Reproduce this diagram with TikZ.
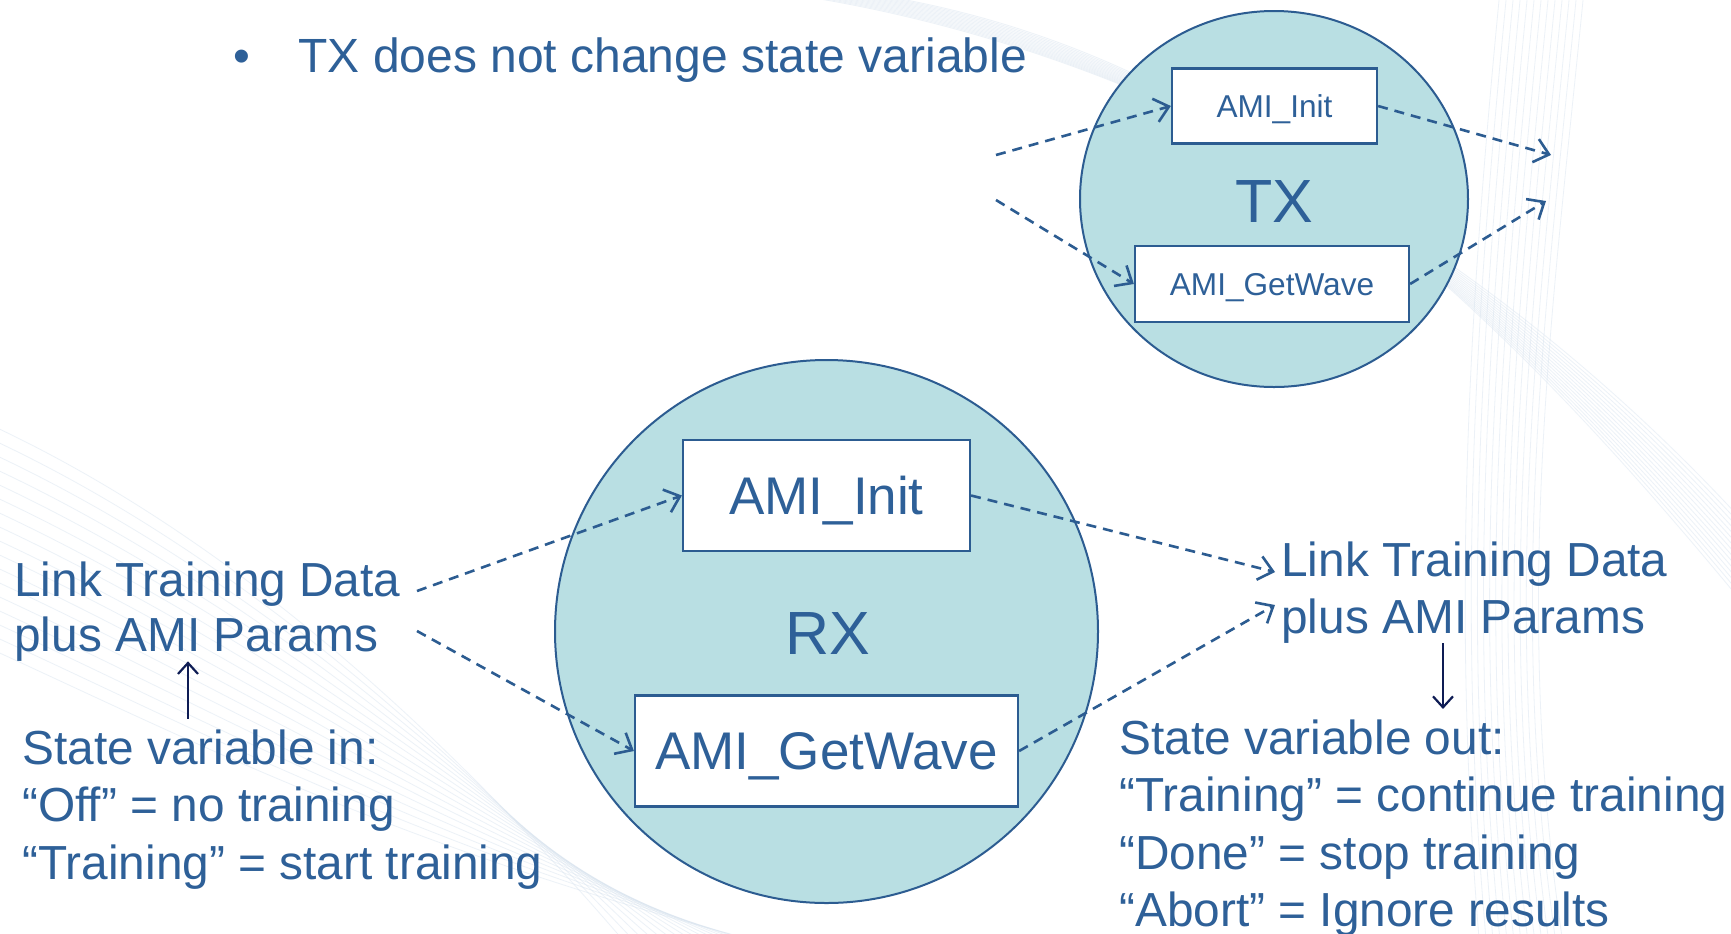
\documentclass[tikz,border=0pt]{standalone}
\usepackage{fontspec}
\setmainfont{Liberation Sans}
\usetikzlibrary{arrows.meta,shapes.geometric}
\definecolor{ink}{RGB}{46,96,152}
\definecolor{disc}{RGB}{185,223,227}
\definecolor{rim}{RGB}{44,92,145}
\definecolor{navy}{RGB}{14,28,84}
\definecolor{haze}{RGB}{214,226,238}
\begin{document}
\begin{tikzpicture}[x=0.5pt,y=-0.5pt,
  lbl/.style={inner sep=0pt, anchor=base west, text=ink, font=\fontsize{23.9}{29}\selectfont},
  unit/.style={ellipse, draw=rim, line width=1pt, fill=disc, inner sep=0pt},
  fnbox/.style={draw=rim, line width=1.1pt, fill=white, inner sep=0pt, text=ink, text depth=0pt},
  flow/.style={draw=rim, line width=1.3pt, dash pattern=on 5pt off 3.5pt,
    -{Straight Barb[length=7pt,width=12pt,line width=1.3pt]}},
  statearrow/.style={draw=navy, line width=1.1pt,
    -{Straight Barb[length=5.5pt,width=10pt,line width=1.1pt]}}]
\useasboundingbox (0,0) rectangle (1731,933);
\fill[white] (0,0) rectangle (1731,933);

% faint template swooshes in the background
\begin{scope}[haze, line width=0.4pt, opacity=0.45]
  \clip (0,0) rectangle (1731,933);
  \foreach \k in {0,...,14} {
    \draw (760+6*\k,-10) .. controls (1150+6*\k,40) and (1500,250+4*\k) .. (1760,540+6*\k);
  }
  \foreach \k in {0,...,12} {
    \draw (1500+7*\k,-10) .. controls (1470+7*\k,300) and (1450+5*\k,600) .. (1480+7*\k,950);
  }
  \foreach \k in {0,...,16} {
    \draw (-20,420+14*\k) .. controls (200,520+14*\k) and (420,700+10*\k) .. (640+12*\k,960);
  }
\end{scope}

% header
\node[lbl, font=\fontsize{24}{29}\selectfont] (dot) at (233,72) {•};
\node[lbl, font=\fontsize{24}{29}\selectfont] (head) at (298,72) {TX does not change state variable};

% TX block
\node[unit, minimum width=194pt, minimum height=188pt] (tx) at (1274,199) {};
\node[text=ink, inner sep=0pt, font=\fontsize{30.5}{36}\selectfont] (txname) at (1274,202) {TX};
\node[fnbox, minimum width=102.5pt, minimum height=37.5pt, font=\fontsize{15.8}{19}\selectfont] (txinit) at (1274.5,106) {AMI\_Init};
\node[fnbox, minimum width=137pt, minimum height=38pt, font=\fontsize{15.8}{19}\selectfont] (txwave) at (1272,284) {AMI\_GetWave};

% RX block
\node[unit, minimum width=271.5pt, minimum height=271.5pt] (rx) at (826.5,631.5) {};
\node[text=ink, inner sep=0pt, font=\fontsize{30.5}{36}\selectfont] (rxname) at (828,634) {RX};
\node[fnbox, minimum width=143.5pt, minimum height=55.5pt, font=\fontsize{26.5}{32}\selectfont] (rxinit) at (826.5,495.5) {AMI\_Init};
\node[fnbox, minimum width=191.5pt, minimum height=55.5pt, font=\fontsize{26.5}{32}\selectfont] (rxwave) at (826.5,751) {AMI\_GetWave};

% left text
\node[lbl] (lin1) at (14,596) {Link Training Data};
\node[lbl] (lin2) at (14,651) {plus AMI Params};
\node[lbl] (sin0) at (22,764) {State variable in:};
\node[lbl] (sin1) at (22,821) {“Off” = no training};
\node[lbl] (sin2) at (22,879) {“Training” = start training};

% right text
\node[lbl] (lout1) at (1281,576) {Link Training Data};
\node[lbl] (lout2) at (1281,633) {plus AMI Params};
\node[lbl] (sout0) at (1119,754) {State variable out:};
\node[lbl] (sout1) at (1119,811) {“Training” = continue training};
\node[lbl] (sout2) at (1119,869) {“Done” = stop training};
\node[lbl] (sout3) at (1119,926) {“Abort” = Ignore results};

% free ends of the connectors
\coordinate (rxa) at (417,591);
\coordinate (rxb) at (417,631);
\coordinate (rxc) at (1275,572);
\coordinate (rxd) at (1275,605);
\coordinate (txa) at (996,155);
\coordinate (txb) at (996,200);
\coordinate (txc) at (1551,155);
\coordinate (txd) at (1546,201);
\coordinate (inx) at (188,0);
\coordinate (outx) at (1443,0);

% RX data flow
\draw[flow] (rxa) -- (rxinit.west);
\draw[flow] (rxb) -- (rxwave.west);
\draw[flow] (rxinit.east) -- (rxc);
\draw[flow] (rxwave.east) -- (rxd);

% TX data flow
\draw[flow] (txa) -- (txinit.west);
\draw[flow] (txb) -- (txwave.west);
\draw[flow] (txinit.east) -- (txc);
\draw[flow] (txwave.east) -- (txd);

% state variable arrows
\draw[statearrow, shorten <=5pt] (sin0.north -| inx) -- (lin2.south -| inx);
\draw[statearrow, shorten >=5pt] (lout2.south -| outx) -- (sout0.north -| outx);
\end{tikzpicture}
\end{document}
